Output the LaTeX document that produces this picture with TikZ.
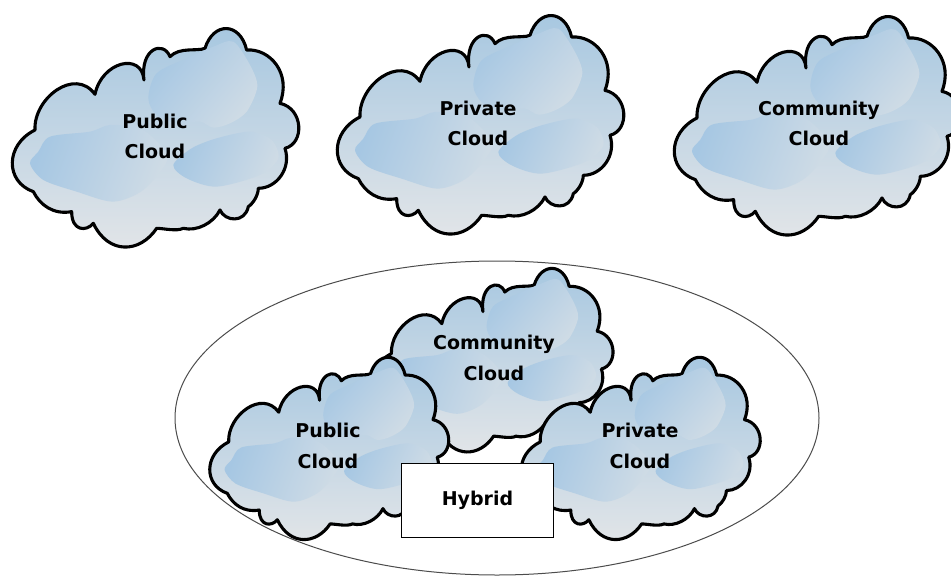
\documentclass[tikz,border=0pt]{standalone}
\usepackage{fontspec}
\setmainfont{DejaVu Sans}[BoldFont={DejaVu Sans Bold}]
\usetikzlibrary{positioning}
\definecolor{skytop}{rgb}{0.65,0.78,0.88}
\definecolor{skymid}{rgb}{0.76,0.84,0.90}
\definecolor{skylow}{rgb}{0.89,0.90,0.91}
\definecolor{blobdark}{rgb}{0.65,0.78,0.89}
\definecolor{bloblight}{rgb}{0.81,0.86,0.90}
\tikzset{x=1pt,y=-1pt}
\tikzset{cloudlabel/.style={align=center,font=\bfseries\fontsize{19}{30.5}\selectfont,inner sep=0pt}}
\tikzset{blob/.style={left color=blobdark,right color=bloblight,draw=none}}
\tikzset{cloudshape/.pic={
\path[top color=skytop,middle color=skymid,bottom color=skylow,draw=black,line width=3.1pt,line join=round]
(105,345) .. controls (100,250) and (225,155) .. (285,238)
.. controls (305,140) and (425,110) .. (432,195)
.. controls (420,100) and (490,75) .. (510,125)
.. controls (540,95) and (590,110) .. (615,100)
.. controls (640,20) and (720,20) .. (740,105)
.. controls (810,100) and (875,175) .. (840,265)
.. controls (910,280) and (915,385) .. (855,400)
.. controls (875,460) and (830,520) .. (775,520)
.. controls (775,540) and (760,565) .. (745,575)
.. controls (735,625) and (675,620) .. (660,585)
.. controls (640,625) and (590,650) .. (550,640)
.. controls (530,650) and (490,640) .. (470,640)
.. controls (420,715) and (325,720) .. (280,625)
.. controls (260,650) and (215,650) .. (215,590)
.. controls (160,600) and (120,570) .. (100,530)
.. controls (15,500) and (15,390) .. (105,345) -- cycle;
\path[blob,shading angle=50] plot[smooth cycle] coordinates {(445,250) (470,175) (560,130) (640,95) (700,80) (750,150) (772,215) (740,290) (690,325) (640,338) (600,320) (530,325) (470,300)};
\path[blob,shading angle=70] plot[smooth cycle] coordinates {(90,445) (115,410) (150,365) (270,350) (330,330) (420,340) (480,390) (500,440) (430,525) (340,560) (230,530) (130,495)};
\path[blob,shading angle=65] plot[smooth cycle] coordinates {(520,450) (575,400) (650,370) (750,350) (815,375) (835,430) (780,480) (650,515) (560,490)};
}}
\begin{document}
\begin{tikzpicture}
\clip (0,0) rectangle (951,576);
\useasboundingbox (0,0) rectangle (951,576);
% top row
\pic[scale=0.3333] (pubtop) at (0,15) {cloudshape};
\pic[scale=0.3333] (privtop) at (325,2) {cloudshape};
\pic[scale=0.3333] (commtop) at (662,3) {cloudshape};
\node[cloudlabel] (publictop) at (155,136.5) {Public\\Cloud};
\node[cloudlabel] (privatetop) at (478,123.5) {Private\\Cloud};
\node[cloudlabel] (communitytop) at (819,123.5) {Community\\Cloud};
% hybrid group
\draw[draw=black!70,line width=1pt,fill=white] (497,418) ellipse [x radius=322,y radius=157];
\pic[scale=0.28] (commlow) at (362,257) {cloudshape};
\pic[scale=0.278] (publow) at (199.5,346) {cloudshape};
\pic[scale=0.278] (privlow) at (511,346) {cloudshape};
\node[cloudlabel] (communitylow) at (494,358) {Community\\Cloud};
\node[cloudlabel] (publiclow) at (328,446) {Public\\Cloud};
\node[cloudlabel] (privatelow) at (640,446) {Private\\Cloud};
\node[draw=black,fill=white,line width=0.8pt,minimum width=152pt,minimum height=74pt,font=\bfseries\fontsize{19}{22}\selectfont] (hybrid) at (477.5,500) {Hybrid};
\end{tikzpicture}
\end{document}
